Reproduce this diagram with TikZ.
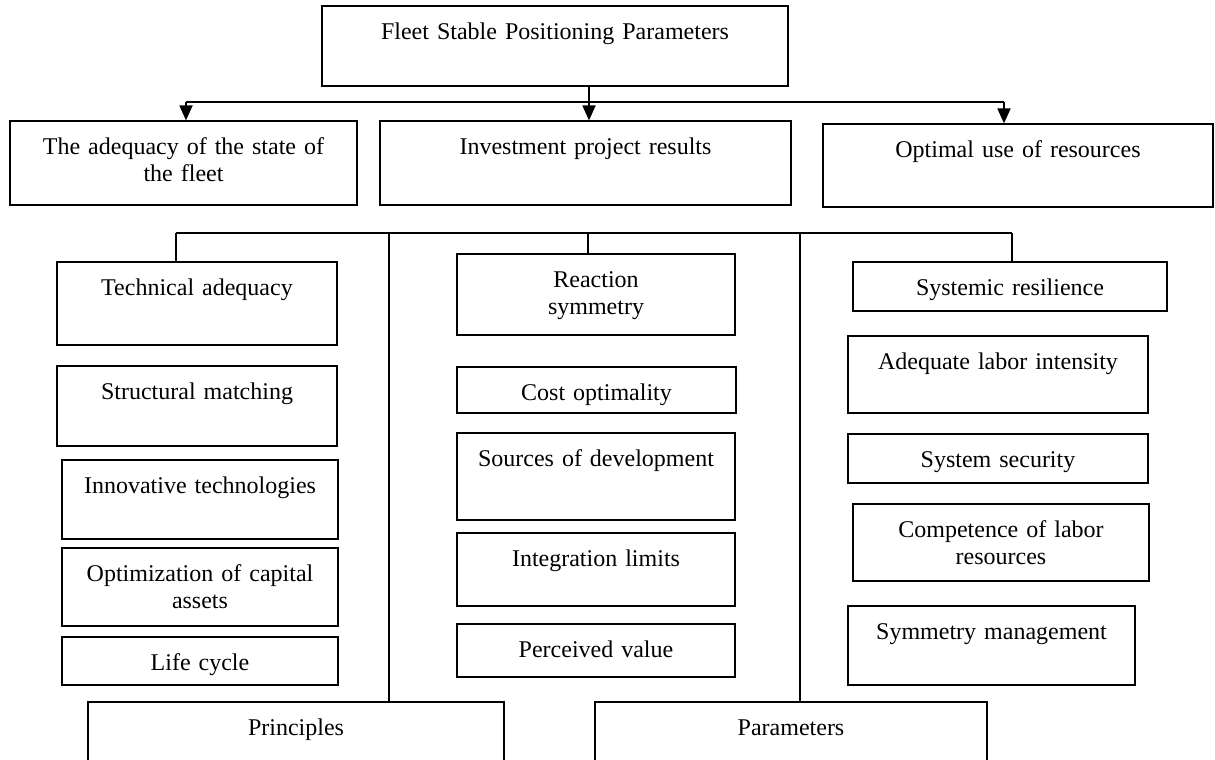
\documentclass[tikz,border=0pt]{standalone}
\usepackage{fontspec}
\setmainfont{Liberation Serif}
\usetikzlibrary{arrows.meta,fit}

\begin{document}
\begin{tikzpicture}[x=0.5pt,y=-0.5pt,
    boxframe/.style={draw, line width=0.6pt, inner sep=0pt},
    boxtext/.style={anchor=base, align=center, text width=200pt, inner sep=0pt,
      font=\fontsize{12}{13.5}\selectfont},
    link/.style={line width=0.6pt},
    arr/.style={line width=0.9pt, -{Triangle[length=7.5pt,width=6.5pt]}}]

      % Page frame
      \useasboundingbox (0,0) rectangle (1215,760);
      \clip (0,0) rectangle (1215,760);

      % Helper macro  {name}{left}{top}{right}{bottom}{text}
      \newcommand{\critbox}[6]{%
        % Frame
        \node[boxframe, fit={(#2,#3) (#4,#5)}] (#1) {};
        % Label
        \node[boxtext] at ([yshift=-17pt]#1.north) {#6};}

      % Head and first level
      \critbox{top}{322}{6}{788}{86}{Fleet Stable Positioning Parameters}
      \critbox{adeq}{10}{121}{357}{205}{The adequacy of the state of\\the fleet}
      \critbox{invest}{380}{121}{791}{205}{Investment project results}
      \critbox{optim}{823}{124}{1213}{207}{Optimal use of resources}

      % Left column
      \critbox{tech}{57}{262}{337}{345}{Technical adequacy}
      \critbox{struct}{57}{366}{337}{446}{Structural matching}
      \critbox{innov}{62}{460}{338}{539}{Innovative technologies}
      \critbox{capital}{62}{548}{338}{626}{Optimization of capital\\assets}
      \critbox{life}{62}{637}{338}{685}{Life cycle}

      % Middle column
      \critbox{react}{457}{254}{735}{335}{Reaction\\symmetry}
      \critbox{cost}{457}{367}{736}{413}{Cost optimality}
      \critbox{sources}{457}{433}{735}{520}{Sources of development}
      \critbox{integ}{457}{533}{735}{606}{Integration limits}
      \critbox{perceived}{457}{624}{735}{677}{Perceived value}

      % Right column
      \critbox{sysres}{853}{262}{1167}{311}{Systemic resilience}
      \critbox{labor}{848}{336}{1148}{413}{Adequate labor intensity}
      \critbox{security}{848}{434}{1148}{483}{System security}
      \critbox{compet}{853}{504}{1149}{581}{Competence of labor\\resources}
      \critbox{symmgmt}{848}{606}{1135}{685}{Symmetry management}

      % Bottom (cut by the page edge)
      \critbox{principles}{88}{702}{504}{790}{Principles}
      \critbox{params}{595}{702}{987}{790}{Parameters}

      % Upper bus with arrows
      \coordinate (hubtop) at (589,102);
      \coordinate (busA) at (186,102);
      \coordinate (busC) at (1004,102);
      \draw[link] (busA) -- (busC);
      \draw[arr] (top.south -| hubtop) -- (hubtop |- invest.north);
      \draw[arr] (busA) -- (busA |- adeq.north);
      \draw[arr] (busC) -- (busC |- optim.north);

      % Lower bus
      \coordinate (busL) at (176,233);
      \coordinate (busM) at (588,233);
      \coordinate (busR) at (1012,233);
      \draw[link] (busL) -- (busR);
      \draw[link] (busL) -- (busL |- tech.north);
      \draw[link] (busM) -- (busM |- react.north);
      \draw[link] (busR) -- (busR |- sysres.north);

      % Column separators down to the bottom boxes
      \coordinate (splitL) at (389,233);
      \coordinate (splitR) at (800,233);
      \draw[link] (splitL) -- (splitL |- principles.north);
      \draw[link] (splitR) -- (splitR |- params.north);
    \end{tikzpicture}
\end{document}
